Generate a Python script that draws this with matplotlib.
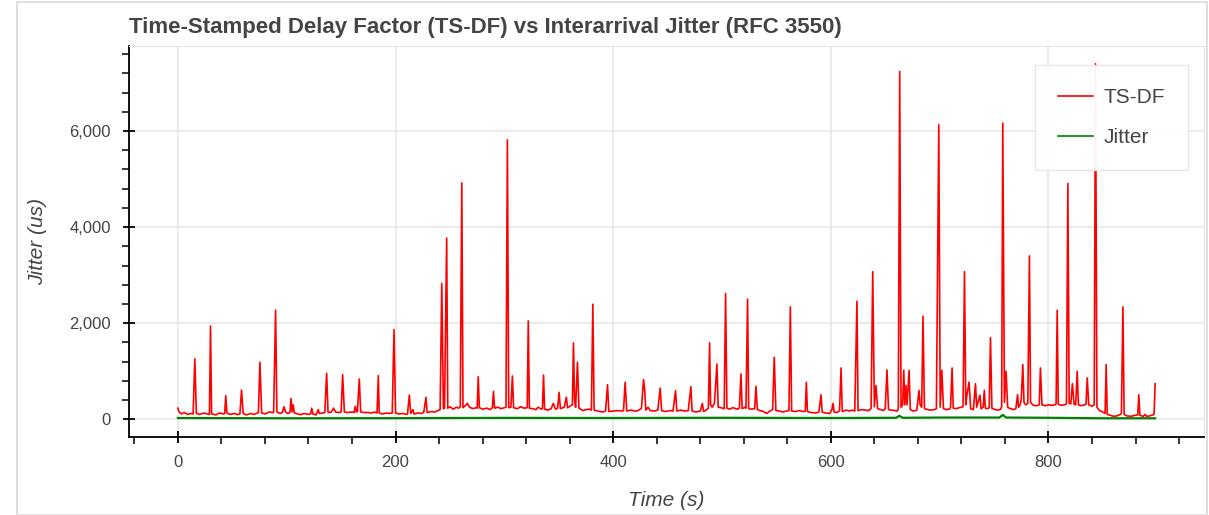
import numpy as np
import matplotlib
matplotlib.use("Agg")
import matplotlib.pyplot as plt
from matplotlib.ticker import MultipleLocator, FuncFormatter

# TS-DF samples (time s, delay factor us)
tsdf = [
    (0, 230), (1, 160), (3, 110), (6, 140), (9, 100), (12, 120), (14, 110), (15.6, 1257), (17, 120),
    (20, 100), (24, 130), (27, 110), (29, 100), (30, 1940), (31, 110), (35, 90), (38, 130), (42, 110),
    (43, 120), (44, 490), (45, 130), (48, 100), (52, 120), (55, 95), (57, 110), (58.5, 607), (60, 120),
    (63, 90), (67, 120), (70, 100), (74, 140), (75.4, 1187), (77, 130), (80, 110), (84, 150), (88, 140),
    (89.8, 2270), (91, 150), (94, 120), (96, 140), (97.5, 260), (99, 150), (101, 120), (103, 140),
    (104, 430), (105, 150), (106, 300), (107, 130), (110, 110), (113, 95), (116, 120), (120, 100),
    (122, 110), (123, 230), (124, 110), (127, 90), (129, 200), (130, 120), (133, 130), (135, 140),
    (136.7, 957), (138, 140), (141, 150), (143, 230), (145, 150), (148, 140), (150, 150), (151.4, 928),
    (153, 150), (156, 140), (160, 150), (162, 140), (163, 270), (164, 150), (165, 160), (166.7, 838),
    (168, 150), (171, 140), (175, 140), (178, 130), (181, 150), (183, 130), (184.2, 908), (185, 130),
    (188, 110), (192, 130), (195, 120), (197, 130), (198.6, 1864), (200, 130), (203, 110), (207, 120),
    (210, 100), (211, 110), (212.7, 503), (214, 120), (216, 200), (217, 110), (221, 130), (224, 120),
    (226, 150), (228, 454), (229, 140), (233, 160), (236, 150), (239, 180), (241, 200), (242.5, 2827),
    (244, 220), (245, 230), (247, 3770), (248, 230), (250, 260), (253, 210), (256, 250), (258, 230),
    (259.5, 260), (260.9, 4921), (262, 240), (264, 280), (266, 330), (268, 250), (271, 220), (274, 240),
    (275, 230), (276, 886), (277, 240), (280, 210), (284, 230), (287, 200), (289, 240), (290, 580),
    (291, 230), (294, 250), (297, 220), (300, 240), (301.5, 250), (302.8, 5815), (304, 240), (306, 250),
    (307.4, 900), (308.5, 240), (312, 220), (315, 260), (318, 230), (321, 240), (322, 2045), (323, 230),
    (326, 220), (329, 200), (331, 250), (334, 210), (335, 220), (336, 921), (337, 210), (340, 190),
    (343, 220), (345, 330), (347, 210), (349, 230), (350.3, 560), (351.5, 220), (355, 250), (357, 460),
    (358, 240), (361, 280), (362.5, 300), (363.5, 1590), (364.5, 400), (365.5, 250), (367.2, 1187),
    (368.5, 230), (372, 180), (375, 200), (378, 210), (380, 190), (381.3, 2394), (382.5, 190),
    (386, 170), (390, 150), (393, 170), (394.8, 719), (396, 160), (400, 170), (404, 180), (408, 170),
    (409.5, 180), (411, 768), (412.5, 170), (416, 190), (420, 170), (423, 180), (426, 230), (427.9, 824),
    (429, 600), (430, 190), (432, 250), (434, 180), (438, 170), (441, 190), (443.2, 649), (444.5, 180),
    (448, 160), (452, 180), (455, 170), (457.3, 593), (458.5, 170), (462, 190), (466, 170), (469, 180),
    (471.4, 677), (472.5, 170), (476, 150), (480, 170), (482, 330), (483, 160), (486, 200), (487.5, 230),
    (488.6, 1590), (489.5, 300), (491, 250), (493, 330), (494, 650), (495.3, 1150), (496.5, 250),
    (499, 240), (502, 220), (503.3, 2617), (504.5, 230), (507, 210), (510, 240), (514, 210), (516, 230),
    (517.4, 942), (518.5, 220), (521, 250), (522, 230), (523.5, 2500), (524.5, 220), (527, 210),
    (530, 220), (531.2, 684), (532.5, 200), (535, 180), (538, 160), (541, 120), (544, 170), (546.5, 200),
    (548, 1291), (549.5, 180), (553, 170), (556, 150), (559, 170), (561.5, 180), (562.8, 2338),
    (564, 170), (567, 160), (571, 180), (575, 160), (576.5, 170), (577.5, 768), (578.5, 160), (582, 140),
    (586, 130), (589, 150), (591, 510), (592, 150), (595, 130), (599, 120), (601, 200), (602, 330),
    (603, 150), (606, 140), (608, 180), (609.4, 1068), (610.5, 160), (614, 190), (617, 170), (620, 190),
    (622, 170), (624, 2457), (625, 180), (628, 200), (632, 190), (635, 180), (637, 230), (638.5, 3071),
    (640, 260), (641.5, 700), (643, 220), (646, 200), (648, 180), (650, 220), (651.6, 1026), (653, 200),
    (656, 190), (659, 180), (661, 170), (662, 210), (663.3, 7239), (664.5, 250), (666, 300), (667, 1020),
    (668, 300), (669, 700), (670, 300), (671.9, 1020), (673, 200), (676, 170), (679, 190), (680, 400),
    (681, 600), (682, 300), (683.5, 250), (684.7, 2143), (686, 220), (689, 200), (692, 190), (695, 200),
    (697, 220), (699.2, 6129), (700.5, 250), (702, 1020), (703.5, 220), (706, 200), (709, 210),
    (710, 250), (711.4, 1068), (712.5, 230), (715, 220), (718, 240), (720, 250), (721.5, 260),
    (722.8, 3071), (724, 300), (725, 500), (727, 770), (728.5, 220), (731, 200), (732.9, 740), (734, 250),
    (737, 500), (738, 220), (740, 250), (741, 600), (742, 230), (744, 220), (745.5, 240), (746.7, 1696),
    (748, 230), (751, 200), (754, 190), (756, 210), (757, 260), (758, 6164), (759.5, 350), (761, 1000),
    (762.5, 250), (765, 220), (768, 200), (770, 220), (771.6, 510), (772.5, 250), (774, 300), (775, 420),
    (776.4, 1138), (777.5, 350), (779, 300), (781, 330), (782.5, 3400), (783.5, 350), (786, 290),
    (789, 280), (791.5, 300), (792.6, 1068), (794, 300), (797, 280), (800, 300), (803, 290), (806, 300),
    (807, 320), (808, 2268), (809, 310), (812, 290), (815, 300), (816.5, 320), (817.8, 4908), (819, 330),
    (820.5, 320), (822, 740), (823.5, 310), (825, 300), (826.4, 1000), (827.5, 300), (830, 280),
    (833, 300), (834.5, 310), (835.6, 860), (837, 300), (840, 270), (842, 300), (843.2, 7400),
    (844.5, 250), (847, 180), (850, 150), (852, 120), (853, 1138), (854, 100), (857, 80), (860, 60),
    (863, 70), (866, 100), (867, 120), (868.4, 2338), (869.5, 100), (872, 70), (876, 60), (879, 80),
    (882, 90), (883, 510), (884, 80), (887, 60), (889, 100), (890, 60), (893, 70), (896, 90), (897, 100),
    (898, 740),
]

# interarrival jitter (RFC 3550), stays close to zero
jitter = [
    (0, 25), (100, 20), (200, 22), (300, 28), (400, 25), (500, 30), (600, 25), (660, 30),
    (663, 70), (666, 30), (700, 35), (755, 35), (758, 90), (761, 35), (800, 30), (850, 20), (898, 20),
]

title = "Time-Stamped Delay Factor (TS-DF) vs Interarrival Jitter (RFC 3550)"
x_label = "Time (s)"
y_label = "Jitter (us)"
series_names = ["TS-DF", "Jitter"]

plt.rcParams['font.family'] = ['Liberation Sans', 'DejaVu Sans']

W, H = 1209, 515
fig = plt.figure(figsize=(W / 100, H / 100), dpi=100)

# light border around the whole cell
fig.patches.append(plt.Rectangle((17 / W, 0), (W - 17) / W - 0.002, (H - 2) / H,
                                 transform=fig.transFigure, fill=False,
                                 edgecolor='#d9d9d9', lw=1.2))

left, right, top, bottom = 129, 1204, 46, 437
ax = fig.add_axes([left / W, 1 - bottom / H, (right - left) / W, (bottom - top) / H])

t1, v1 = np.array(tsdf).T
t2, v2 = np.array(jitter).T
ax.plot(t1, v1, color='#ff0000', lw=1.2, label=series_names[0], zorder=3)
ax.plot(t2, v2, color='#008000', lw=1.6, label=series_names[1], zorder=4)

ax.set_xlim(-44.9, 942.9)
ax.set_ylim(-370, 7770)

ax.xaxis.set_major_locator(MultipleLocator(200))
ax.xaxis.set_minor_locator(MultipleLocator(40))
ax.yaxis.set_major_locator(MultipleLocator(2000))
ax.yaxis.set_minor_locator(MultipleLocator(400))
ax.yaxis.set_major_formatter(FuncFormatter(lambda v, p: f"{int(v):,}"))

ax.grid(True, which='major', color='#e5e5e5', lw=1.1, zorder=0)
ax.set_axisbelow(True)

for s in ['top', 'right']:
    ax.spines[s].set_color('#e5e5e5')
for s in ['left', 'bottom']:
    ax.spines[s].set_color('black')
    ax.spines[s].set_linewidth(1.3)

ax.tick_params(which='major', direction='inout', length=8, width=1.3, color='black',
               labelsize=12, labelcolor='#444444', pad=9)
ax.tick_params(which='minor', direction='out', length=5, width=1.1, color='black')
ax.tick_params(top=False, right=False, which='both')

ax.set_xlabel(x_label, fontsize=15, style='italic', color='#444444', labelpad=15)
ax.set_ylabel(y_label, fontsize=15, style='italic', color='#444444', labelpad=16)

fig.text(left / W, 1 - 28 / H, title, fontsize=16, fontweight='bold', color='#444444',
         va='center', ha='left')

leg = ax.legend(loc='upper right', bbox_to_anchor=(0.985, 0.951), fontsize=15,
                frameon=True, fancybox=False, borderaxespad=0, handlelength=1.7,
                handletextpad=0.5, borderpad=1.1, labelspacing=1.0, labelcolor='#444444')
leg.get_frame().set_edgecolor('#e5e5e5')
leg.get_frame().set_facecolor('white')
leg.get_frame().set_alpha(0.95)
leg.get_frame().set_linewidth(1)
for line in leg.get_lines():
    line.set_linewidth(1.2)

fig.savefig("out.png", dpi=100)
